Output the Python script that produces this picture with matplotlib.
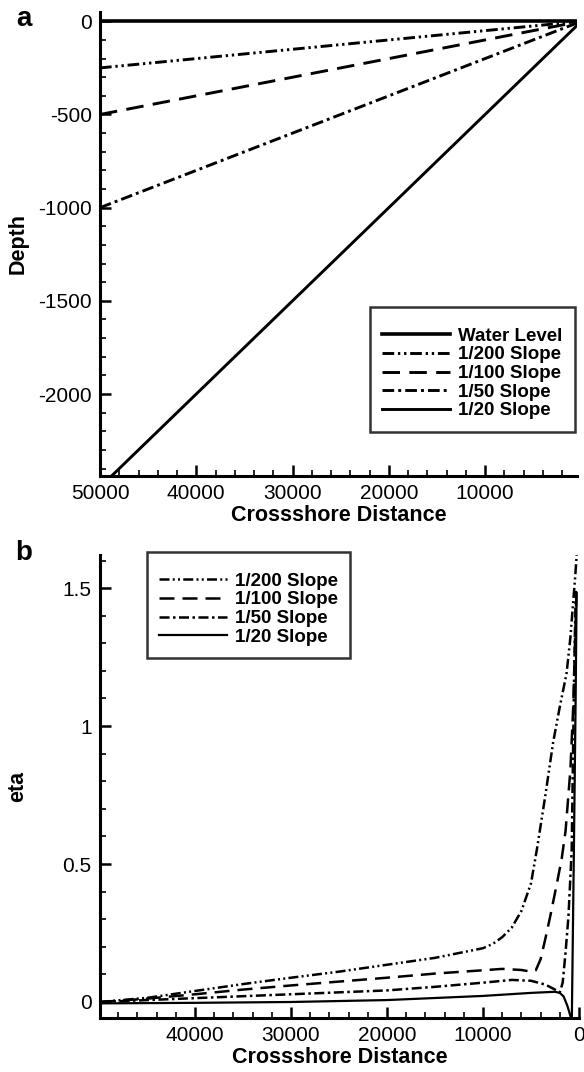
import matplotlib
matplotlib.use("Agg")
import matplotlib.pyplot as plt
from matplotlib.ticker import MultipleLocator

plt.rcParams["font.family"] = ["Liberation Sans", "DejaVu Sans"]
plt.rcParams["axes.unicode_minus"] = False

# Panel a: bathymetry profiles (straight slopes meeting the shoreline)
shore_x = [50000, 0]
water_level = [0, 0]
depth_200 = [-250, 0]
depth_100 = [-500, 0]
depth_50 = [-1000, 0]
depth_20 = [-2500, 0]

# Panel b: surface elevation eta along the cross-shore transect
dist_200 = [49900, 45000, 40000, 35000, 30000, 25000, 20000, 15000, 10000, 9000,
            8000, 7000, 6000, 5000, 4400, 3500, 2700, 2000, 1300, 900, 650, 400, 240]
eta_200 = [0.0, 0.015, 0.04, 0.065, 0.088, 0.11, 0.135, 0.16, 0.195, 0.21,
           0.235, 0.27, 0.33, 0.43, 0.55, 0.75, 0.94, 1.07, 1.19, 1.32, 1.43, 1.54, 1.62]

dist_100 = [49900, 45000, 40000, 35000, 30000, 25000, 20000, 15000, 10000, 8000,
            6000, 5000, 4500, 4000, 3500, 3000, 2300, 1800, 1400, 900, 600, 400, 250]
eta_100 = [0.0, 0.012, 0.028, 0.045, 0.06, 0.074, 0.088, 0.103, 0.115, 0.12,
           0.116, 0.11, 0.115, 0.155, 0.23, 0.31, 0.43, 0.52, 0.62, 0.84, 1.07, 1.32, 1.5]

dist_50 = [49900, 40000, 30000, 20000, 15000, 10000, 7000, 5000, 3500, 2500,
           2000, 1700, 1400, 1100, 760, 650, 500, 340]
eta_50 = [0.0, 0.014, 0.028, 0.042, 0.055, 0.07, 0.08, 0.077, 0.063, 0.045,
          0.035, 0.07, 0.18, 0.31, 0.55, 0.83, 1.2, 1.49]

dist_20 = [49900, 40000, 30000, 20000, 10000, 5000, 2500, 2000, 1600, 1200,
           900, 750, 550, 350, 250]
eta_20 = [-0.005, -0.003, 0.0, 0.007, 0.022, 0.033, 0.037, 0.033, 0.02, -0.015,
          -0.05, -0.07, 0.5, 1.1, 1.48]

LS_200 = (0, (4, 1.3, 0.8, 1.3, 0.8, 1.3))
LS_100 = (0, (6, 3.2))
LS_50 = (0, (4, 1.4, 1.0, 1.4))

W, H = 584, 1072
fig = plt.figure(figsize=(W / 100, H / 100), dpi=100)
ax_a = fig.add_axes([100 / W, 1 - 476 / H, 477 / W, 464 / H])
ax_b = fig.add_axes([100 / W, 1 - 1018 / H, 479 / W, 463 / H])


def style_axes(ax):
    for side in ("top", "right"):
        ax.spines[side].set_visible(False)
    for side in ("left", "bottom"):
        ax.spines[side].set_linewidth(2.2)
    ax.tick_params(which="major", direction="in", length=8, width=1.8,
                   labelsize=15, pad=6)
    ax.tick_params(which="minor", direction="in", length=4.5, width=1.2)
    ax.set_xlabel("Crossshore Distance", fontsize=15.5, fontweight="bold", labelpad=1)


def style_legend(leg):
    leg.get_frame().set_edgecolor("black")
    leg.get_frame().set_linewidth(1.8)


LEG_KW = dict(loc="upper left", bbox_transform=None, fancybox=False,
              prop={"size": 13.5, "weight": "bold"}, handlelength=3.6,
              handletextpad=0.45, labelspacing=0.08, borderpad=0.65,
              borderaxespad=0, title=" ", title_fontsize=6)

# ---- panel a ----
ax_a.plot(shore_x, water_level, color="black", lw=2.6, ls="-", label="Water Level")
ax_a.plot(shore_x, depth_200, color="black", lw=2.1, ls=LS_200, label="1/200 Slope")
ax_a.plot(shore_x, depth_100, color="black", lw=2.1, ls=LS_100, label="1/100 Slope")
ax_a.plot(shore_x, depth_50, color="black", lw=2.1, ls=LS_50, label="1/50 Slope")
ax_a.plot(shore_x, depth_20, color="black", lw=2.1, ls="-", label="1/20 Slope")
ax_a.set_xlim(50000, 450)
ax_a.set_ylim(-2440, 50)
ax_a.xaxis.set_major_locator(MultipleLocator(10000))
ax_a.xaxis.set_minor_locator(MultipleLocator(2000))
ax_a.yaxis.set_major_locator(MultipleLocator(500))
ax_a.yaxis.set_minor_locator(MultipleLocator(100))
style_axes(ax_a)
ax_a.set_ylabel("Depth", fontsize=15.5, fontweight="bold")
ax_a.yaxis.set_label_coords(-0.15, 0.5)

LEG_KW["bbox_transform"] = fig.transFigure
leg_a = ax_a.legend(bbox_to_anchor=(370 / W, 1 - 307 / H), **LEG_KW)
style_legend(leg_a)

# ---- panel b ----
ax_b.plot(dist_200, eta_200, color="black", lw=1.8, ls=LS_200, label="1/200 Slope")
ax_b.plot(dist_100, eta_100, color="black", lw=1.8, ls=LS_100, label="1/100 Slope")
ax_b.plot(dist_50, eta_50, color="black", lw=1.8, ls=LS_50, label="1/50 Slope")
ax_b.plot(dist_20, eta_20, color="black", lw=1.6, ls="-", label="1/20 Slope")
ax_b.set_xlim(49900, 0)
ax_b.set_ylim(-0.058, 1.62)
ax_b.xaxis.set_major_locator(MultipleLocator(10000))
ax_b.xaxis.set_minor_locator(MultipleLocator(2000))
ax_b.yaxis.set_major_locator(MultipleLocator(0.5))
ax_b.yaxis.set_minor_locator(MultipleLocator(0.1))
ax_b.yaxis.set_major_formatter(plt.FuncFormatter(lambda v, p: f"{v:g}"))
style_axes(ax_b)
ax_b.set_ylabel("eta", fontsize=15.5, fontweight="bold")
ax_b.yaxis.set_label_coords(-0.15, 0.5)

leg_b = ax_b.legend(bbox_to_anchor=(147 / W, 1 - 552 / H), **LEG_KW)
style_legend(leg_b)

fig.text(24 / W, 1 - 19 / H, "a", fontsize=20, fontweight="bold", ha="center", va="center")
fig.text(24 / W, 1 - 553 / H, "b", fontsize=20, fontweight="bold", ha="center", va="center")

fig.savefig("out.png", dpi=100)
